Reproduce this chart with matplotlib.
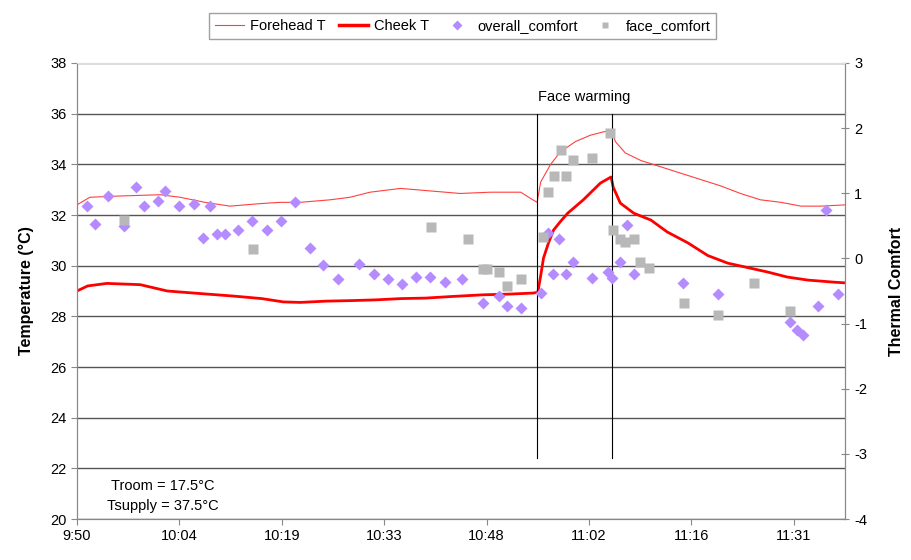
import numpy as np
import matplotlib.pyplot as plt
from matplotlib.lines import Line2D

plt.rcParams['font.family'] = ['Liberation Sans', 'DejaVu Sans']
plt.rcParams['axes.unicode_minus'] = False

# ---------------- data (minutes after 9:50) ---------------- #

forehead_t = [0, 1.8, 6.0, 11.7, 14.5, 18.0, 21.5, 25.8, 28.6, 31.4, 35.6, 38.4, 41.2, 45.5,
              49.7, 53.9, 58.1, 62.4, 63.8, 64.7, 65.2, 66.6, 68.0, 70.1, 72.2, 74.3, 75.3,
              75.7, 77.1, 79.3, 82.1, 84.9, 87.7, 90.5, 93.3, 96.1, 99.0, 101.8, 104.6, 108.0]
forehead_T = [32.4, 32.7, 32.75, 32.8, 32.7, 32.5, 32.35, 32.45, 32.5, 32.5, 32.6, 32.7, 32.9, 33.05,
              32.95, 32.85, 32.9, 32.9, 32.65, 32.5, 33.3, 34.0, 34.5, 34.9, 35.15, 35.3, 35.25,
              34.9, 34.45, 34.15, 33.9, 33.65, 33.4, 33.15, 32.85, 32.6, 32.5, 32.35, 32.35, 32.4]

cheek_t = [0, 1.5, 4.2, 8.9, 12.7, 17.3, 22.0, 26.0, 29.0, 31.4, 35.0, 38.4, 42.0, 45.5, 49.0,
           52.5, 57.1, 61.0, 64.2, 64.8, 65.2, 65.6, 66.3, 67.0, 68.0, 69.0, 71.2, 73.6, 75.1,
           75.4, 76.4, 78.3, 80.7, 83.0, 85.9, 88.7, 91.5, 94.7, 97.1, 99.9, 102.8, 106.4, 108.1]
cheek_T = [29.0, 29.2, 29.3, 29.25, 29.0, 28.9, 28.8, 28.7, 28.57, 28.55, 28.6, 28.62, 28.65, 28.7, 28.72,
           28.78, 28.85, 28.88, 28.92, 28.95, 29.6, 30.3, 30.9, 31.4, 31.75, 32.07, 32.6, 33.26, 33.5,
           33.1, 32.47, 32.07, 31.8, 31.33, 30.9, 30.4, 30.1, 29.9, 29.75, 29.55, 29.43, 29.35, 29.32]

overall_t = [1.4, 2.5, 4.4, 6.6, 8.3, 9.4, 11.4, 12.4, 14.4, 16.5, 17.7, 18.7, 19.7, 20.8, 22.7,
             24.6, 26.7, 28.7, 30.7, 32.8, 34.6, 36.7, 39.7, 41.8, 43.8, 45.7, 47.7, 49.7, 51.7,
             54.2, 57.1, 59.4, 60.5, 62.5, 65.2, 66.2, 67.0, 67.8, 68.8, 69.8, 72.4, 74.6, 75.3,
             76.3, 77.3, 78.3, 85.2, 90.1, 100.2, 101.3, 102.1, 104.2, 105.3, 107.0]
overall_c = [0.80, 0.53, 0.96, 0.50, 1.10, 0.80, 0.88, 1.04, 0.80, 0.84, 0.31, 0.80, 0.38, 0.38, 0.44,
             0.57, 0.44, 0.57, 0.87, 0.16, -0.10, -0.32, -0.09, -0.24, -0.32, -0.39, -0.28, -0.28, -0.36,
             -0.32, -0.68, -0.58, -0.73, -0.76, -0.53, 0.39, -0.24, 0.30, -0.24, -0.05, -0.30, -0.21, -0.30,
             -0.05, 0.51, -0.24, -0.38, -0.55, -0.98, -1.10, -1.18, -0.73, 0.74, -0.55]

face_t = [6.6, 24.8, 49.8, 55.0, 57.1, 57.7, 59.4, 60.5, 62.5, 65.5, 66.3, 67.1, 68.1, 68.8,
          69.8, 72.4, 74.9, 75.4, 76.3, 77.1, 78.3, 79.2, 80.4, 85.3, 90.1, 95.2, 100.2]
face_c = [0.59, 0.14, 0.48, 0.30, -0.16, -0.16, -0.21, -0.42, -0.32, 0.33, 1.02, 1.27, 1.66, 1.27,
          1.51, 1.54, 1.93, 0.44, 0.30, 0.25, 0.30, -0.05, -0.15, -0.68, -0.87, -0.38, -0.81]

warm_start = 64.75
warm_end = 75.3

tick_labels = ['9:50', '10:04', '10:19', '10:33', '10:48', '11:02', '11:16', '11:31']

# ---------------- plot ---------------- #

fig = plt.figure(figsize=(9.11, 5.6), dpi=100)
ax = fig.add_axes([0.0845, 0.0732, 0.8431, 0.8143])
ax2 = ax.twinx()

ax.plot(forehead_t, forehead_T, color='#ff4040', lw=0.8)
ax.plot(cheek_t, cheek_T, color='#ff0000', lw=2)

for xv in (warm_start, warm_end):
    ax.plot([xv, xv], [22.4, 36], color='black', lw=0.8)

ax2.plot(overall_t, overall_c, 'D', color='#b48cff', ms=6.5, mec='none')
ax2.plot(face_t, face_c, 's', color='#b8b8b8', ms=7, mec='none')

ax.set_xlim(0, 108)
ax.set_ylim(20, 38)
ax2.set_ylim(-4, 3)
ax.set_xticks(np.arange(len(tick_labels)) * 14.4)
ax.set_xticklabels(tick_labels)
ax.set_yticks(np.arange(20, 39, 2))
ax2.set_yticks(np.arange(-4, 4, 1))

ax.grid(axis='y', color='#555555', lw=1)
ax.set_axisbelow(True)

for a in (ax, ax2):
    for s in a.spines.values():
        s.set_color('#888888')
ax.spines['top'].set_color('#dddddd')
ax2.spines['top'].set_color('#dddddd')

ax.tick_params(axis='both', labelsize=10.5, length=4, color='#888888')
ax2.tick_params(axis='y', labelsize=10.5, length=6, direction='inout', color='#888888')

ax.set_ylabel('Temperature (°C)', fontsize=11.5, fontweight='bold', labelpad=12)
ax2.set_ylabel('Thermal Comfort', fontsize=11.5, fontweight='bold', labelpad=16)

ax.text(0.661, 0.925, 'Face warming', transform=ax.transAxes, ha='center', va='center', fontsize=10.5)
ax.text(0.112, 0.05, 'Troom = 17.5°C\nTsupply = 37.5°C', transform=ax.transAxes,
        ha='center', va='center', fontsize=10.5, linespacing=1.5)

handles = [Line2D([], [], color='#ff4040', lw=0.8),
           Line2D([], [], color='#ff0000', lw=2.5),
           Line2D([], [], ls='none', marker='D', color='#b48cff', ms=5, mec='none'),
           Line2D([], [], ls='none', marker='s', color='#b8b8b8', ms=5, mec='none')]
fig.legend(handles, ['Forehead T', 'Cheek T', 'overall_comfort', 'face_comfort'],
           loc='upper center', bbox_to_anchor=(0.508, 0.99), ncol=4, fontsize=10.5,
           frameon=True, fancybox=False, edgecolor='#888888', handlelength=2.0,
           handletextpad=0.4, columnspacing=0.9, borderpad=0.4)

fig.savefig('out.png', dpi=100)
